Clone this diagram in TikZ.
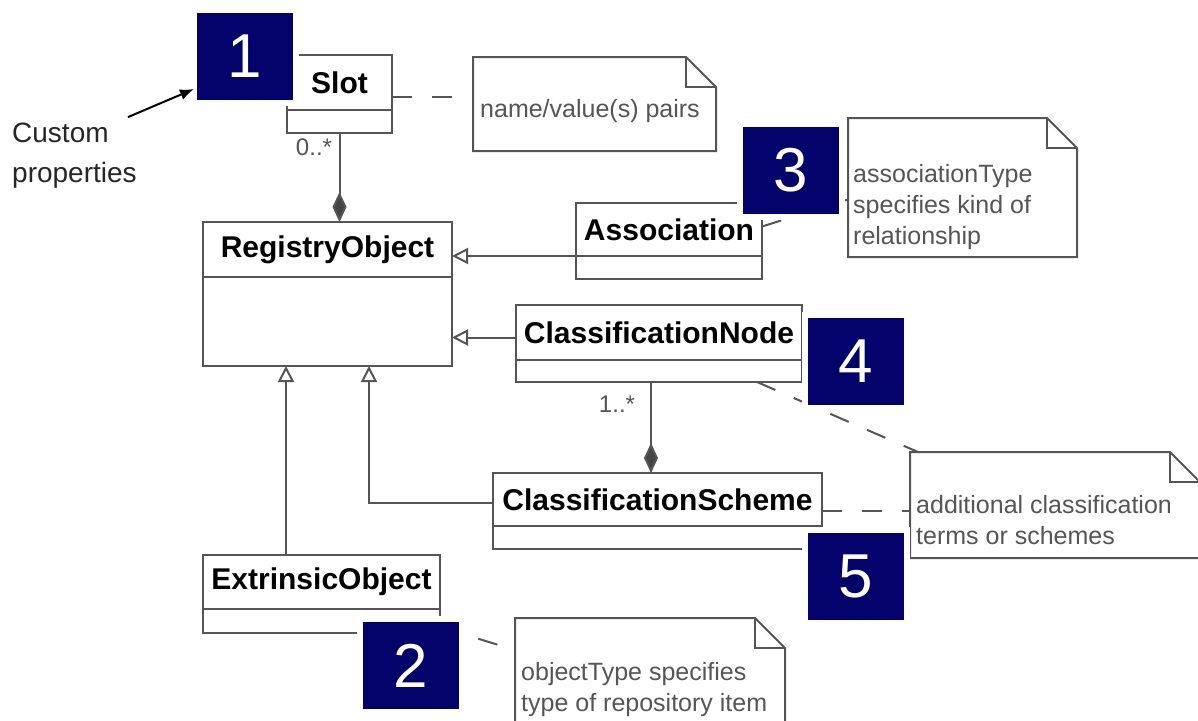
\documentclass[tikz,border=0pt]{standalone}
\usepackage{fontspec}
\setmainfont{Liberation Sans}
\usetikzlibrary{arrows.meta,positioning}
\definecolor{navy}{HTML}{03036B}
\definecolor{linegray}{HTML}{555555}
\definecolor{notegray}{HTML}{555555}
\newcommand{\clsfont}{\fontsize{30}{36}\selectfont\bfseries}
\newcommand{\notefont}{\fontsize{25}{31}\selectfont}
\newcommand{\numfont}{\fontsize{62}{70}\selectfont}
\newcommand{\dogear}[1]{%
  \draw[noteline] (#1.north west) -- ([xshift=-30pt]#1.north east)
    -- ([yshift=-30pt]#1.north east) -- (#1.south east) -- (#1.south west) -- cycle;
  \draw[noteline] ([xshift=-30pt]#1.north east) |- ([yshift=-30pt]#1.north east);}
\tikzset{
  cls/.style={draw=linegray, line width=2pt, inner sep=0pt, outer sep=0pt, font=\clsfont},
  cmp/.style={draw=linegray, line width=2pt, inner sep=0pt, outer sep=0pt},
  notebox/.style={inner sep=0pt, outer sep=0pt},
  noteline/.style={draw=linegray, line width=2pt},
  notetext/.style={inner sep=0pt, align=left, text=notegray, font=\notefont},
  mult/.style={inner sep=0pt, text=notegray, font=\fontsize{24}{28}\selectfont},
  numsq/.style={fill=navy, draw=white, line width=6pt, minimum width=102pt, minimum height=93pt,
    inner sep=0pt, outer sep=0pt, text=white, font=\numfont},
  dashline/.style={draw=linegray, line width=2pt, dash pattern=on 20pt off 20pt},
  gen/.style={draw=linegray, line width=2pt, -{Triangle[open, length=16pt, width=16pt]}},
  comp/.style={draw=linegray, line width=2pt, -{Diamond[length=30pt, width=14pt, fill=linegray!80!black]}}
}
\begin{document}
\begin{tikzpicture}[x=1pt, y=-1pt]
  \useasboundingbox (0,0) rectangle (1198,720);

  \node[cls, minimum width=105pt, minimum height=55pt] (slot) at (339.5,82.5) {Slot};
  \node[cmp, minimum width=105pt, minimum height=23pt, below=0pt of slot] (slotb) {};
  \node[cls, minimum width=249pt, minimum height=55pt] (ro) at (327.5,249.5) {RegistryObject};
  \node[cmp, minimum width=249pt, minimum height=89pt, below=0pt of ro] (rob) {};
  \node[cls, minimum width=186pt, minimum height=53pt] (assoc) at (669,229.5) {Association};
  \node[cmp, minimum width=186pt, minimum height=23pt, below=0pt of assoc] (assocb) {};
  \node[cls, minimum width=286pt, minimum height=55pt] (cn) at (659,332.5) {ClassificationNode};
  \node[cmp, minimum width=286pt, minimum height=22pt, below=0pt of cn] (cnb) {};
  \node[cls, minimum width=329pt, minimum height=53pt] (cs) at (657.5,499.5) {ClassificationScheme};
  \node[cmp, minimum width=329pt, minimum height=23pt, below=0pt of cs] (csb) {};
  \node[cls, minimum width=237pt, minimum height=54pt] (eo) at (321.5,582) {ExtrinsicObject};
  \node[cmp, minimum width=237pt, minimum height=24pt, below=0pt of eo] (eob) {};

  \node[notebox, minimum width=243pt, minimum height=94pt] (nslot) at (594.5,104) {};
  \dogear{nslot}
  \node[notetext, anchor=west] (tslot) at (480,111) {name/value(s) pairs};
  \node[notebox, minimum width=229pt, minimum height=139pt] (nassoc) at (962.5,187.5) {};
  \dogear{nassoc}
  \node[notetext, anchor=west] (tassoc) at (853,207) {associationType\\specifies kind of\\relationship};
  \node[notebox, minimum width=290pt, minimum height=106pt] (nclass) at (1055,505) {};
  \dogear{nclass}
  \node[notetext, anchor=west] (tclass) at (916,520) {additional classification\\terms or schemes};
  \node[notebox, minimum width=270pt, minimum height=122pt] (nobj) at (650,679) {};
  \dogear{nobj}
  \node[notetext, anchor=west] (tobj) at (521,690) {objectType specifies\\type of repository item};

  \node[mult] (mslot) at (314,147) {0..*};
  \node[mult] (mcn) at (617,404) {1..*};

  \draw[comp] (slotb.south) -- (slotb.south |- ro.north);
  \coordinate (cnfoot) at ([xshift=-8pt]cnb.south);
  \draw[comp] (cnfoot) -- (cnfoot |- cs.north);

  \draw[gen] (assoc.south west) -- (assoc.south west -| ro.east);
  \coordinate (cngen) at ([yshift=-5pt]cn.west);
  \draw[gen] (cngen) -- (cngen -| ro.east);
  \coordinate (csgen) at ([yshift=-3pt]cs.west);
  \draw[gen] (csgen) -| ([xshift=41.5pt]rob.south);
  \coordinate (eogen) at ([xshift=-35.5pt]eo.north);
  \draw[gen] (eogen) -- (eogen |- rob.south);

  \coordinate (slotdash) at ([yshift=-14pt]slot.east);
  \draw[dashline] (slotdash) -- (slotdash -| nslot.west);
  \draw[dashline] ([yshift=3pt]assoc.east) -- ([yshift=-12pt]nassoc.west);
  \draw[dashline] ([xshift=98pt]cnb.south) -- ([xshift=8pt]nclass.north west);
  \coordinate (csdash) at ([yshift=-11.5pt]cs.east);
  \draw[dashline] (csdash) -- (csdash -| nclass.west);
  \draw[dashline] ([yshift=-6pt]eob.east) -- ([yshift=29pt]nobj.west);

  \node[numsq] (sq1) at (245,56.5) {1};
  \node[numsq] (sq2) at (411,665.5) {2};
  \node[numsq] (sq3) at (791,170.5) {3};
  \node[numsq] (sq4) at (856,361.5) {4};
  \node[numsq] (sq5) at (855.5,576.5) {5};

  \node[anchor=west, align=left, inner sep=6pt, text=black!85, font=\fontsize{28}{40}\selectfont]
    (custom) at (6,156) {Custom\\properties};
  \draw[black, line width=2pt, -{Latex[length=14pt, width=11pt]}]
    ([xshift=-15pt]custom.north east) -- ([yshift=14pt]sq1.south west);
\end{tikzpicture}
\end{document}
